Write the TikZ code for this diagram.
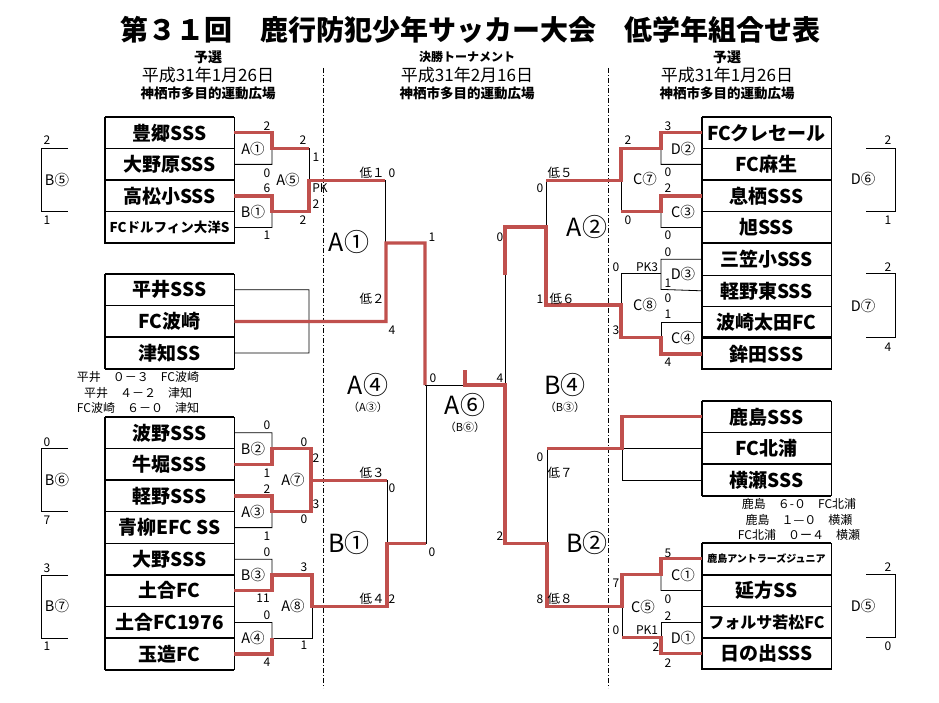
\documentclass[tikz,border=0pt]{standalone}
\usepackage{fontspec}
\setmainfont{Noto Sans CJK JP}
\usepackage{xcolor}
\definecolor{winred}{HTML}{C0504D}
\newcommand\fsz[1]{\fontsize{#1}{#1}\selectfont}

\begin{document}
\begin{tikzpicture}[
  x=1pt, y=-1pt,
  team/.style={draw, line width=0.7pt, minimum width=129.5pt, minimum height=31.6pt,
    inner sep=0pt, outer sep=0pt, font=\bfseries\fsz{19}},
  sc/.style={inner sep=0pt, font=\fsz{12}},
  tag/.style={inner sep=0pt, font=\fsz{14.5}},
  low/.style={inner sep=0pt, font=\fsz{12.5}},
  big/.style={inner sep=0pt, font=\fsz{25}},
  sub/.style={inner sep=0pt, font=\fsz{11}},
  res/.style={inner sep=0pt, font=\fsz{12}},
  bk/.style={line width=0.8pt},
  frame/.style={line width=1.8pt},
  win/.style={draw=winred, line width=3.2pt},
  split/.style={line width=0.7pt, dash pattern=on 5pt off 2pt on 1pt off 2pt}
]
\useasboundingbox (0,0) rectangle (939,703);

% headings
\node[font=\bfseries\fsz{28}] (title) at (470,30) {第３１回　鹿行防犯少年サッカー大会　低学年組合せ表};
\node[font=\bfseries\fsz{14}] (hl1) at (208,57) {予選};
\node[font=\fsz{17}] (hl2) at (208,75) {平成31年1月26日};
\node[font=\bfseries\fsz{13.5}] (hl3) at (208,93) {神栖市多目的運動広場};
\node[font=\bfseries\fsz{12}] (hm1) at (467,57) {決勝トーナメント};
\node[font=\fsz{17}] (hm2) at (467,75) {平成31年2月16日};
\node[font=\bfseries\fsz{13.5}] (hm3) at (467,93) {神栖市多目的運動広場};
\node[font=\bfseries\fsz{14}] (hr1) at (727,57) {予選};
\node[font=\fsz{17}] (hr2) at (727,75) {平成31年1月26日};
\node[font=\bfseries\fsz{13.5}] (hr3) at (727,93) {神栖市多目的運動広場};

\draw[split] (323,68) -- (323,688);
\draw[split] (608,68) -- (608,688);

% left teams
\foreach \t [count=\i] in {豊郷SSS, 大野原SSS, 高松小SSS, {\fsz{13.5}FCドルフィン大洋S}}
  \node[team] (L\i) at (169.5,101.2+31.6*\i) {\t};
\foreach \t [count=\i from 5] in {平井SSS, FC波崎, 津知SS}
  \node[team] (L\i) at (169.5,131.8+31.6*\i) {\t};
\foreach \t [count=\i from 8] in {波野SSS, 牛堀SSS, 軽野SSS, 青柳EFC SS, 大野SSS, 土合FC, 土合FC1976, 玉造FC}
  \node[team] (L\i) at (169.5,180+31.6*\i) {\t};
\foreach \y in {117,180.2,243.4,274,337.2,369,417,480.2,543.4,575,638.2,669.6}
  \draw[frame] (104.75,\y) -- (234.25,\y);
\draw[frame] (104.75,117) -- (104.75,243.4) (104.75,274) -- (104.75,369) (104.75,417) -- (104.75,669.6);

% right teams
\foreach \t [count=\i] in {FCクレセール, FC麻生, 息栖SSS, 旭SSS, 三笠小SSS, 軽野東SSS, 波崎太田FC, 鉾田SSS}
  \node[team] (R\i) at (766.5,101.2+31.6*\i) {\t};
\foreach \t [count=\i from 9] in {鹿島SSS, FC北浦, 横瀬SSS}
  \node[team] (R\i) at (766.5,132.4+31.6*\i) {\t};
\foreach \t [count=\i from 12] in {{\fsz{10}鹿島アントラーズジュニア}, 延方SS, {\fsz{16}フォルサ若松FC}, 日の出SSS}
  \node[team] (R\i) at (766.5,179.6+31.6*\i) {\t};
\foreach \y in {117,180.2,243.4,337.2,369,401,464.2,496,543,574.6,637.8,669}
  \draw[frame] (701.75,\y) -- (831.25,\y);
\draw[frame] (701.75,117) -- (701.75,369) (701.75,401) -- (701.75,496) (701.75,543) -- (701.75,669);

% score lines of the leagues
\node[res] (lg1) at (138,377) {平井　０－３　FC波崎};
\node[res] (lg2) at (138,393) {平井　４－２　津知};
\node[res] (lg3) at (138,408) {FC波崎　６－０　津知};
\node[res] (rg1) at (799,504) {鹿島　６-０　FC北浦};
\node[res] (rg2) at (799,520) {鹿島　１—０　横瀬};
\node[res] (rg3) at (799,535) {FC北浦　０ー４　横瀬};

% black bracket lines, left
\draw[bk] (L1.east) -| (272,164.4) -- (L2.east);
\draw[bk] (L3.east) -| (272,227.6) -- (L4.east);
\draw[bk] (272,148.6) -| (309,211.8);
\draw[bk] (L5.east) -| (309,353) -- (L7.east);
\draw[bk] (385,180.2) -- (385,243);
\draw[bk] (L8.east) -| (272,464.4) -- (L9.east);
\draw[bk] (L10.east) -| (272,527.6) -- (L11.east);
\draw[bk] (L12.east) -| (272,590.8) -- (L13.east);
\draw[bk] (L14.east) -| (272,654) -- (L15.east);
\draw[bk] (272,638.2) -| (312,606.6);
\draw[bk] (387,480.2) -- (387,543.5);
\draw[bk] (425,385) -- (465,385);
\draw[bk] (426,385) -- (426,543.5);

% black bracket lines, right
\draw[bk] (R1.west) -| (661,164.4) -- (R2.west);
\draw[bk] (R3.west) -| (661,227.6) -- (R4.west);
\draw[bk] (661,148.6) -| (621,211.8);
\draw[bk] (R5.west) -| (661,289.4) -- (R6.west);
\draw[bk] (R7.west) -| (661,337.7);
\draw[bk] (661,273.6) -| (621,337.7);
\draw[bk] (546,180.2) -- (546,227);
\draw[bk] (505,275) -- (505,385);
\draw[bk] (R10.west) -- (622,448.4);
\draw[bk] (622,448.4) |- (R11.west);
\draw[bk] (547,448.4) -- (547,543.5);
\draw[bk] (R12.west) -| (661,590.4) -- (R13.west);
\draw[bk] (R14.west) -| (661,653.6);
\draw[bk] (661,574.6) -| (622,637.8);

% side brackets
\draw[bk] (68,148.6) -| (41,211.8) -- (68,211.8);
\draw[bk] (68,448.6) -| (41,511.8) -- (68,511.8);
\draw[bk] (68,575) -| (41,638.2) -- (68,638.2);
\draw[bk] (866,148.6) -| (895,211.8) -- (866,211.8);
\draw[bk] (866,273.6) -| (895,337) -- (866,337);
\draw[bk] (866,574.6) -| (895,637.8) -- (866,637.8);

% winners
\draw[win] (L1.east) -| (272,148.6) -- (309,148.6);
\draw[win] (L3.east) -| (272,211.8) -| (309,180.2) -- (385,180.2);
\draw[win] (L6.east) -- (386,321.4) |- (425,243) -- (425,385);
\draw[win] (L9.east) -| (272,448.6) -| (311,480.2) -- (387,480.2);
\draw[win] (L10.east) -| (272,511.8) -| (311,480.2);
\draw[win] (L13.east) -| (272,575) -| (312,606.6) -- (387,606.6) |- (426,543.5);
\draw[win] (L15.east) -| (272,638.2);
\draw[win] (R1.west) -| (661,148.6) -| (621,180.2) -- (546,180.2);
\draw[win] (R3.west) -| (661,211.8) -- (621,211.8);
\draw[win] (R8.west) -| (661,337.7) -| (621,305) -- (546,305) |- (505,227) -- (505,275);
\draw[win] (R9.west) -| (622,448.4) -- (547,448.4);
\draw[win] (R15.west) -| (661,637.8) -- (622,637.8);
\draw[win] (465,370) |- (505,385) -- (505,543.5) -- (547,543.5) -- (547,606.4)
  -- (622,606.4) -- (622,574.6) -- (661,574.6) |- (R12.west);

% match names
\node[tag] (mA1) at (253,148.6) {A①};
\node[tag] (mB1) at (253,211.8) {B①};
\node[tag] (mA5) at (288,180) {A⑤};
\node[tag] (mB5) at (57,180) {B⑤};
\node[tag] (mB2) at (253,448.6) {B②};
\node[tag] (mA3) at (253,511.8) {A③};
\node[tag] (mA7) at (293,480) {A⑦};
\node[tag] (mB6) at (57,480) {B⑥};
\node[tag] (mB3) at (253,575) {B③};
\node[tag] (mA4) at (253,638.2) {A④};
\node[tag] (mA8) at (293,606) {A⑧};
\node[tag] (mB7) at (57,606) {B⑦};
\node[tag] (mD2) at (683,148.6) {D②};
\node[tag] (mC3) at (683,211.8) {C③};
\node[tag] (mC7) at (645,179) {C⑦};
\node[tag] (mD6) at (863,179) {D⑥};
\node[tag] (mD3) at (683,273.6) {D③};
\node[tag] (mC4) at (683,337.7) {C④};
\node[tag] (mC8) at (645,305) {C⑧};
\node[tag] (mD7) at (863,306) {D⑦};
\node[tag] (mC1) at (683,574.6) {C①};
\node[tag] (mD1) at (683,637.8) {D①};
\node[tag] (mC5) at (643,607) {C⑤};
\node[tag] (mD5) at (863,606) {D⑤};

% final tournament names
\node[big] (fA1) at (349,242) {A①};
\node[big] (fB1) at (349,543) {B①};
\node[big] (fA2) at (587,227) {A②};
\node[big] (fB2) at (587,543) {B②};
\node[big] (fA4) at (368,385) {A④};
\node[sub] (fA4s) at (368,407) {（A③）};
\node[big] (fA6) at (465,405) {A⑥};
\node[sub] (fA6s) at (465,427) {（B⑥）};
\node[big] (fB4) at (565,385) {B④};
\node[sub] (fB4s) at (565,407) {（B③）};
\node[low] (w1) at (372,173) {低１};
\node[low] (w2) at (372,299) {低２};
\node[low] (w3) at (372,473) {低３};
\node[low] (w4) at (372,599) {低４};
\node[low] (w5) at (560,173) {低５};
\node[low] (w6) at (562,299) {低６};
\node[low] (w7) at (560,473) {低７};
\node[low] (w8) at (560,599) {低８};

% scores, left
\foreach \x/\y/\s in {267/126/2, 267/173/0, 267/188/6, 267/235/1, 303/140/2, 303/220/2,
    316/157/1, 320/188/PK, 316/204/2, 47/140/2, 47/220/1,
    267/425/0, 267/473/1, 267/489/2, 267/536/1, 304/442/0, 316/458/2, 316/504/3, 304/519/0,
    47/442/0, 47/520/7, 267/552/0, 263/598/11, 267/615/0, 267/662/4, 304/567/3, 304/645/1,
    47/568/3, 47/646/1}
  \node[sc] at (\x,\y) {\s};
% scores, final
\foreach \x/\y/\s in {392/173/0, 392/330/4, 392/488/0, 392/599/2, 432/237/1, 432/552/0,
    433/378/0, 500/378/4, 500/237/0, 500/536/2, 540/188/0, 540/299/1, 540/457/0, 540/599/8}
  \node[sc] at (\x,\y) {\s};
% scores, right
\foreach \x/\y/\s in {668/126/3, 668/172/0, 668/188/2, 668/235/0, 628/140/2, 628/220/0,
    888/140/2, 888/220/1, 668/252/0, 647/267/PK3, 668/283/1, 668/298/0, 668/314/1, 668/362/4,
    616/267/0, 616/330/3, 888/267/2, 888/347/4, 668/553/5, 668/599/0, 668/616/2, 668/663/2,
    647/630/PK1, 656/647/2, 616/583/7, 616/630/0, 888/567/2, 888/646/0}
  \node[sc] at (\x,\y) {\s};
\end{tikzpicture}
\end{document}
